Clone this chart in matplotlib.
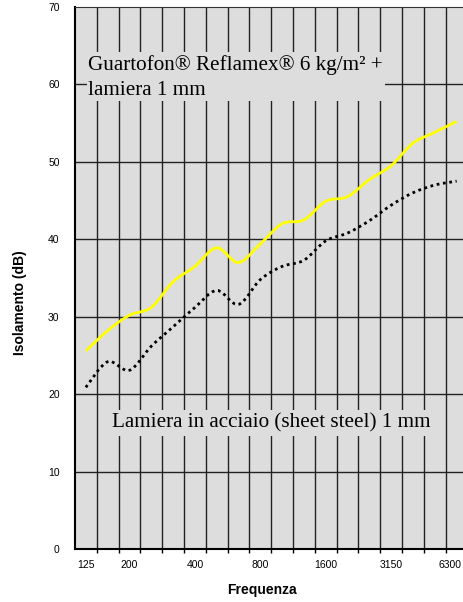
import matplotlib
matplotlib.use("Agg")
import matplotlib.pyplot as plt
import matplotlib.transforms as mtransforms
from matplotlib.path import Path
from matplotlib.patches import PathPatch, Rectangle

# Third-octave bands (category axis) and sound insulation values (dB)
bands = ["125", "160", "200", "250", "315", "400", "500", "630", "800",
         "1000", "1250", "1600", "2000", "2500", "3150", "4000", "5000", "6300"]
shown_labels = ["125", "200", "400", "800", "1600", "3150", "6300"]
guartofon = [25.6, 28.2, 30.2, 31.2, 34.5, 36.5, 38.9, 37.0, 39.4,
             42.0, 42.5, 44.9, 45.5, 47.7, 49.5, 52.4, 53.8, 55.2]
sheet_steel = [20.9, 24.2, 23.1, 26.2, 28.7, 31.2, 33.4, 31.6, 34.8,
               36.5, 37.3, 39.8, 40.8, 42.4, 44.4, 46.0, 47.0, 47.5]

bg = "#dddddd"
serif = ["Liberation Serif", "DejaVu Serif"]
sans = ["Liberation Sans", "DejaVu Sans"]


def smooth_path(xs, ys):
    # Excel-style smoothed line: cubic Bezier through every data point
    n = len(xs)
    verts = [(xs[0], ys[0])]
    codes = [Path.MOVETO]
    for i in range(n - 1):
        a = i - 1 if i > 0 else i
        d = i + 2 if i + 2 < n else i + 1
        c1 = (xs[i] + (xs[i + 1] - xs[a]) / 6, ys[i] + (ys[i + 1] - ys[a]) / 6)
        c2 = (xs[i + 1] - (xs[d] - xs[i]) / 6, ys[i + 1] - (ys[d] - ys[i]) / 6)
        verts += [c1, c2, (xs[i + 1], ys[i + 1])]
        codes += [Path.CURVE4] * 3
    return Path(verts, codes)


fig = plt.figure(figsize=(4.63, 6.02), dpi=100)
ax = fig.add_axes([0.1618, 0.0875, 0.848, 0.9013])
ax.set_facecolor(bg)

x = list(range(len(bands)))
ax.set_xlim(-0.5, len(bands) - 0.5)
ax.set_ylim(0, 70)

# grid: horizontal every 10 dB, vertical between categories
for v in range(10, 70, 10):
    ax.axhline(v, color="#222222", lw=1.0, zorder=1)
for k in range(len(bands) - 1):
    ax.axvline(k + 0.5, color="#222222", lw=1.0, zorder=1)

# text boxes hide the grid behind them
ax.add_patch(Rectangle((0.05, 57.9), 13.67, 6.3, facecolor=bg, edgecolor="none", zorder=2))
ax.add_patch(Rectangle((0.88, 14.6), 15.1, 3.4, facecolor=bg, edgecolor="none", zorder=2))
ax.text(0.08, 60.9, "Guartofon® Reflamex® 6 kg/m² +\nlamiera 1 mm", family=serif,
        fontsize=15.2, va="center", ha="left", linespacing=1.45, zorder=3)
ax.text(1.2, 16.3, "Lamiera in acciaio (sheet steel) 1 mm", family=serif,
        fontsize=15.2, va="center", ha="left", zorder=3)

ax.add_patch(PathPatch(smooth_path(x, guartofon), fill=False, edgecolor="#ffff00",
                       lw=2.0, zorder=4))
ax.add_patch(PathPatch(smooth_path(x, sheet_steel), fill=False, edgecolor="black",
                       lw=2.0, linestyle=(0, (1, 1.3)), zorder=4))

# axes styling
ax.spines["right"].set_visible(False)
ax.spines["top"].set_color("#333333")
ax.spines["left"].set_linewidth(1.5)
ax.spines["bottom"].set_linewidth(1.5)

ax.set_yticks(range(0, 71, 10))
ax.tick_params(axis="y", length=0, pad=11, labelsize=7.5)
for t in ax.get_yticklabels():
    t.set_family(sans)

tick_pos = [bands.index(b) for b in shown_labels]
ax.set_xticks(tick_pos)
ax.set_xticklabels(shown_labels, family=sans, fontsize=7.5)
ax.set_xticks([k + 0.5 for k in range(len(bands) - 1)], minor=True)
ax.tick_params(axis="x", which="major", length=0, pad=8)
ax.tick_params(axis="x", which="minor", length=3, width=1, direction="out")
last = ax.get_xticklabels()[-1]
last.set_transform(last.get_transform() + mtransforms.ScaledTranslation(-0.07, 0, fig.dpi_scale_trans))

ax.set_ylabel("Isolamento (dB)", family=sans, fontsize=10, fontweight="bold", va="center")
ax.yaxis.set_label_coords(-0.14, 0.454)
ax.set_xlabel("Frequenza", family=sans, fontsize=10, fontweight="bold", va="center")
ax.xaxis.set_label_coords(0.4766, -0.075)

fig.savefig("out.png", dpi=100)
